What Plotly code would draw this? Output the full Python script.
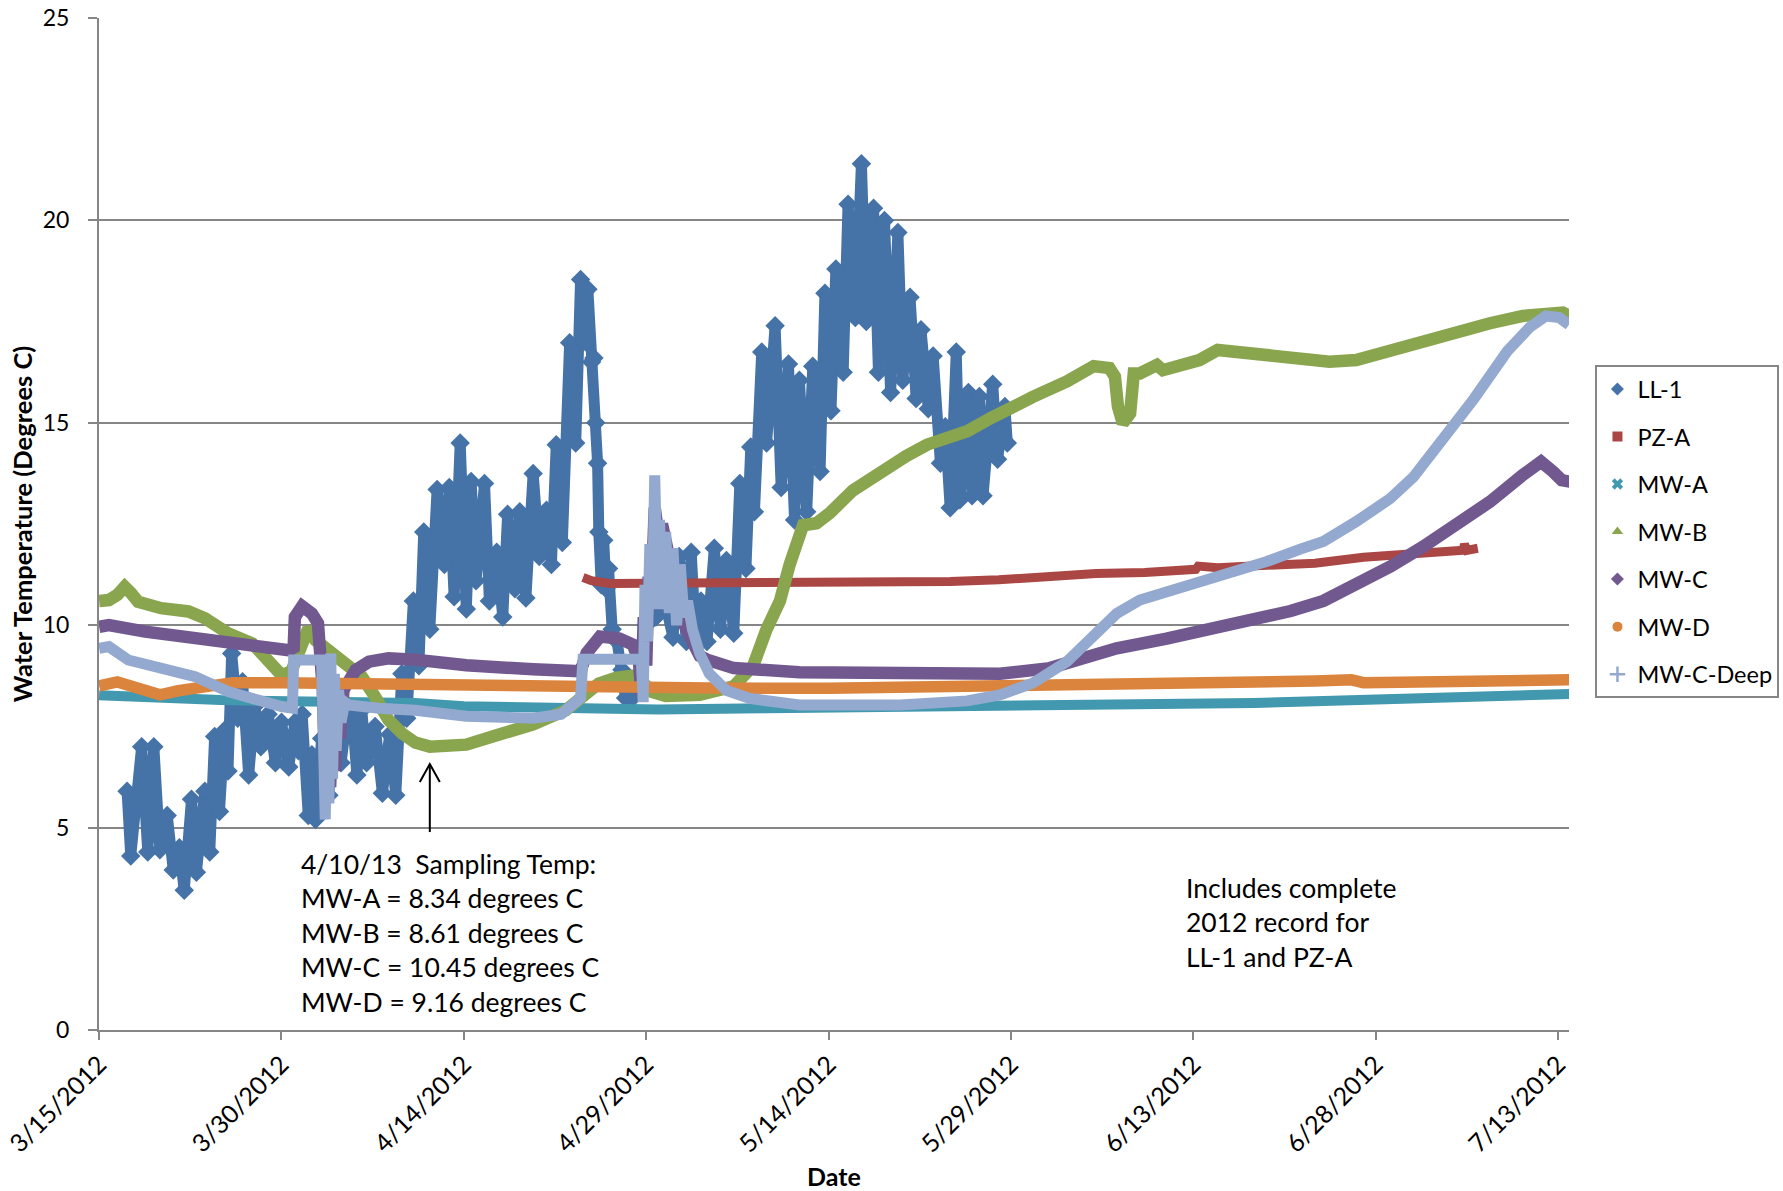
import pandas as pd
import plotly.graph_objects as go

# Logger record start; every series below is given as (days since START, temperature in deg C)
START = pd.Timestamp("2012-03-15")

LL1_DAY = [2.3, 2.6, 3.0, 3.5, 4.0, 4.5, 5.0, 5.6, 6.1, 6.6, 7.0, 7.6, 8.0, 8.7, 9.1, 9.5, 9.9,
           10.3, 10.6, 10.9, 11.4, 11.8, 12.3, 12.8, 13.3, 13.9, 14.5, 15.0, 15.6, 16.1, 16.4,
           16.7, 17.2, 17.5, 17.8, 18.3, 18.9, 19.4, 19.9, 20.4, 20.8, 21.2, 21.6, 22.0, 22.7,
           23.3, 23.9, 24.4, 24.9, 25.3, 25.85, 26.3, 26.7, 27.2, 27.8, 28.4, 28.8, 29.2, 29.7,
           30.2, 30.6, 31.0, 31.7, 32.1, 32.7, 33.2, 33.6, 34.2, 34.6, 35.1, 35.7, 36.2, 36.8,
           37.2, 37.6, 38.1, 38.7, 39.2, 39.6, 40.0, 40.2, 40.5, 40.7, 40.85, 41.0, 41.1, 41.3,
           41.5, 41.7, 41.9, 42.2, 42.6, 43.0, 43.3, 43.7, 44.2, 44.6, 45.0, 45.4, 45.8, 46.2,
           46.6, 47.2, 47.7, 48.3, 48.7, 49.1, 49.5, 50.0, 50.6, 51.1, 51.6, 52.2, 52.7, 53.2,
           53.6, 53.9, 54.5, 54.9, 55.6, 56.1, 56.7, 57.2, 57.6, 58.2, 58.7, 59.3, 59.7, 60.2,
           60.6, 61.2, 61.6, 62.2, 62.7, 63.1, 63.7, 64.1, 64.6, 65.1, 65.7, 66.1, 66.7, 67.2,
           67.6, 68.2, 68.6, 69.2, 69.6, 70.0, 70.5, 70.8, 71.5, 71.8, 72.4, 72.7, 73.5, 73.9,
           74.5, 74.7]
LL1_TEMP = [5.9, 4.3, 5.5, 7.0, 4.4, 7.0, 4.45, 5.3, 3.95, 4.5, 3.45, 5.7, 3.9, 5.9, 4.4, 7.25, 5.4,
            7.4, 6.4, 9.3, 7.7, 8.6, 6.3, 8.0, 7.0, 7.8, 6.6, 7.6, 6.5, 7.6, 6.9,
            7.8, 5.3, 6.8, 5.2, 7.2, 5.8, 8.0, 6.6, 7.8, 7.9, 6.3, 7.9, 6.6, 7.5,
            5.85, 7.3, 5.8, 8.8, 7.7, 10.6, 9.0, 12.3, 9.9, 13.35, 11.5, 13.4, 10.7, 14.5,
            10.4, 13.55, 11.1, 13.5, 10.6, 11.8, 10.2, 12.74, 10.9, 12.8, 10.67, 13.75, 11.7, 12.84,
            11.5, 14.46, 12.04, 16.98, 14.5, 18.54, 17.0, 18.3, 16.5, 16.6, 15.0, 14.0, 12.3, 11.0,
            12.1, 10.9, 11.4, 9.9, 9.6, 8.9, 8.2, 8.15, 8.4, 9.3, 10.0, 10.5, 10.2, 11.2,
            10.5, 9.7, 11.7, 9.6, 11.8, 9.5, 10.6, 9.6, 11.9, 9.9, 11.6, 9.8, 13.5, 11.4,
            14.4, 12.8, 16.75, 14.5, 17.4, 13.4, 16.45, 12.6, 16.05, 12.8, 16.4, 13.8, 18.2, 15.3,
            18.8, 16.25, 20.4, 17.6, 21.4, 17.5, 20.3, 16.25, 20.0, 15.75, 19.7, 16.05, 18.1, 15.6,
            17.3, 15.35, 16.65, 14.0, 14.9, 12.9, 16.75, 13.1, 15.75, 13.2, 15.65, 13.2, 15.95, 14.1,
            15.4, 14.5]

PZA_DAY = [39.8, 40.5, 42, 45, 50, 55, 60, 65, 70, 74, 78, 80, 80.3, 82, 86, 89, 90.2, 90.4,
           92, 96, 100, 104, 108, 111.5, 112.2, 112.3, 112.5, 113.4]
PZA_TEMP = [11.18, 11.1, 11.03, 11.03, 11.05, 11.06, 11.07, 11.06, 11.08, 11.12, 11.2, 11.24,
            11.3, 11.28, 11.3, 11.36, 11.38, 11.46, 11.42, 11.48, 11.53, 11.68, 11.75, 11.81,
            11.85, 12.0, 11.85, 11.9]

MWA_DAY = [0, 5, 10, 20, 26, 30, 36, 40, 46, 55, 65, 74, 85, 95, 100, 110, 121]
MWA_TEMP = [8.27, 8.2, 8.15, 8.1, 8.08, 8.0, 7.95, 7.92, 7.92, 7.95, 7.97, 8.03, 8.05, 8.08,
            8.12, 8.2, 8.3]

MWB_DAY = [0, 0.8, 1.5, 2.1, 2.6, 3.2, 5.1, 7.35, 8.7, 10.6, 12.6, 13.9, 15.0, 15.8, 16.5, 17.2,
           17.8, 18.9, 20.5, 21.6, 22.7, 23.8, 24.9, 26.0, 27.2, 30.2, 32.9, 35.7, 38.4, 39.8,
           41.1, 42.5, 43.9, 44.5, 45.5, 46.6, 49.4, 52.2, 53.8, 54.9, 56.0, 56.8, 57.9, 59.0,
           60.1, 62.0, 64.2, 66.4, 68.1, 69.7, 71.4, 73.5, 75.7, 76.8, 79.6, 81.8, 83.1, 83.55,
           83.8, 84.2, 84.8, 85.1, 85.6, 87.0, 87.5, 89.4, 90.5, 92.0, 93.3, 96.6, 99.5, 101.2,
           103.4, 106.2, 108.9, 111.7, 114.4, 117.1, 119.0, 120.4, 121.1]
MWB_TEMP = [10.6, 10.62, 10.75, 10.95, 10.8, 10.58, 10.42, 10.34, 10.17, 9.8, 9.55, 9.14, 8.77,
            8.85, 9.3, 9.92, 9.63, 9.34, 8.97, 8.73, 8.23, 7.66, 7.33, 7.1, 7.0, 7.05, 7.3, 7.55,
            7.9, 8.25, 8.56, 8.7, 8.75, 8.65, 8.35, 8.25, 8.28, 8.49, 9.0, 9.9, 10.6, 11.5, 12.47,
            12.52, 12.77, 13.33, 13.78, 14.18, 14.46, 14.59, 14.79, 15.14, 15.5, 15.64, 16.02,
            16.4, 16.35, 16.14, 15.4, 14.99, 15.23, 16.22, 16.22, 16.43, 16.3, 16.43, 16.55, 16.8,
            16.76, 16.67, 16.55, 16.51, 16.55, 16.8, 17.04, 17.25, 17.46, 17.64, 17.72, 17.72,
            17.62]

MWC_DAY = [0, 0.8, 3.8, 7.9, 12.0, 15.6, 16.0, 16.1, 16.7, 17.5, 18.0, 18.2, 18.4, 18.6, 18.8,
           19.0, 19.2, 19.4, 19.6, 19.8, 20.1, 20.5, 21.1, 22.2, 23.8, 26.0, 30.2, 35.7, 39.6,
           40.1, 41.2, 42.8, 43.9, 44.4, 44.6, 44.8, 45.0, 45.2, 45.4, 45.7, 46.0, 46.3, 46.7,
           47.1, 47.5, 48.0, 48.6, 49.4, 50.0, 51.1, 52.2, 57.6, 65.9, 74.1, 78.2, 80.9, 83.7,
           87.8, 91.9, 96.0, 98.0, 100.7, 103.4, 106.2, 108.9, 111.7, 114.4, 117.1, 118.6, 119.6,
           120.3, 121.1]
MWC_TEMP = [9.96, 10.0, 9.84, 9.67, 9.47, 9.38, 9.45, 10.2, 10.47, 10.29, 10.05, 9.5, 8.4, 6.3,
            7.8, 6.0, 7.6, 6.4, 8.0, 7.2, 8.4, 8.6, 8.89, 9.1, 9.18, 9.15, 9.01, 8.91, 8.86, 9.31,
            9.72, 9.67, 9.52, 9.11, 8.3, 10.2, 9.0, 11.2, 10.4, 12.9, 12.2, 12.5, 11.94, 11.2,
            10.63, 10.1, 9.72, 9.24, 9.15, 9.02, 8.94, 8.84, 8.79, 8.8, 8.94, 9.18, 9.43, 9.67,
            9.92, 10.17, 10.35, 10.6, 10.99, 11.45, 11.94, 12.47, 13.05, 13.71, 14.04, 13.79,
            13.58, 13.54]

MWD_DAY = [0, 1.5, 3.5, 5, 6.5, 8.5, 11, 15, 20, 24, 26, 30, 40, 50, 60, 70, 75, 85, 95, 100,
           103, 104, 110, 121]
MWD_TEMP = [8.5, 8.6, 8.42, 8.28, 8.38, 8.5, 8.58, 8.58, 8.56, 8.5, 8.55, 8.5, 8.47, 8.45, 8.44,
            8.47, 8.5, 8.55, 8.6, 8.62, 8.65, 8.58, 8.6, 8.65]

MWCD_DAY = [0, 0.8, 2.4, 5.1, 7.9, 10.6, 12.8, 15.0, 15.9, 16.0, 18.3, 18.45, 18.6, 18.75, 18.9,
            19.05, 19.2, 19.35, 19.5, 19.7, 19.9, 20.2, 20.5, 23.0, 26.0, 30.2, 35.7, 38.0, 39.0,
            39.6, 39.8, 44.6, 44.75, 44.9, 45.1, 45.3, 45.5, 45.7, 45.9, 46.1, 46.3, 46.6, 46.9,
            47.2, 47.5, 47.8, 48.1, 48.4, 48.8, 49.4, 50.2, 51.6, 53.5, 57.6, 65.9, 71.4, 74.1,
            76.8, 79.6, 81.8, 83.7, 85.6, 87.8, 90.5, 93.3, 96.0, 98.8, 100.7, 103.4, 106.2,
            108.1, 110.3, 113.1, 115.8, 117.7, 119.0, 120.1, 120.9]
MWCD_TEMP = [9.43, 9.47, 9.14, 8.97, 8.73, 8.36, 8.15, 7.99, 7.95, 9.14, 9.14, 7.2, 5.2, 8.6,
             5.6, 9.3, 6.2, 8.8, 6.9, 8.4, 7.6, 8.1, 8.03, 7.95, 7.9, 7.75, 7.7, 7.8, 8.0, 8.2,
             9.16, 9.16, 8.1, 11.0, 9.6, 12.0, 10.4, 13.7, 11.0, 12.6, 10.4, 12.3, 10.3, 11.9,
             10.0, 11.5, 10.2, 10.6, 9.9, 9.3, 8.8, 8.39, 8.19, 8.03, 8.03, 8.13, 8.28, 8.57,
             9.1, 9.71, 10.29, 10.62, 10.82, 11.03, 11.28, 11.57, 11.88, 12.07, 12.56, 13.13,
             13.66, 14.49, 15.6, 16.76, 17.37, 17.64, 17.6, 17.42]

TICK_DAYS = [0, 15, 30, 45, 60, 75, 90, 105, 120]
TICK_TEXT = ["3/15/2012", "3/30/2012", "4/14/2012", "4/29/2012", "5/14/2012",
             "5/29/2012", "6/13/2012", "6/28/2012", "7/13/2012"]
AXIS_START_DAY, AXIS_END_DAY = -0.01, 120.9

SAMPLE_NOTE = ["4/10/13&nbsp; Sampling Temp:", "MW-A = 8.34 degrees C",
               "MW-B = 8.61 degrees C", "MW-C = 10.45 degrees C", "MW-D = 9.16 degrees C"]
RECORD_NOTE = ["Includes complete", "2012 record for", "LL-1 and PZ-A"]

# Arrow marking the sampling date on the MW-B trough
ARROW_DAY, ARROW_TAIL, ARROW_TIP = 27.2, 4.89, 6.57

FONT = "Lato, 'Open Sans', sans-serif"
GRID = "#868686"


def to_dates(days):
    return [START + pd.Timedelta(days=d) for d in days]


# name, days, temps, colour, line width, legend symbol
series = [
    ("LL-1", LL1_DAY, LL1_TEMP, "#4572A7", 11, "diamond"),
    ("PZ-A", PZA_DAY, PZA_TEMP, "#AA4643", 9, "square"),
    ("MW-A", MWA_DAY, MWA_TEMP, "#4198AF", 10, "x"),
    ("MW-B", MWB_DAY, MWB_TEMP, "#89A54E", 12.5, "triangle-up"),
    ("MW-C", MWC_DAY, MWC_TEMP, "#71588F", 12.5, "diamond"),
    ("MW-D", MWD_DAY, MWD_TEMP, "#DB843D", 11.5, "circle"),
    ("MW-C-Deep", MWCD_DAY, MWCD_TEMP, "#93A9CF", 11, "cross-thin"),
]

fig = go.Figure()
for name, days, temps, color, width, symbol in series:
    trace = dict(x=to_dates(days), y=temps, name=name, legendgroup=name, showlegend=False,
                 line=dict(color=color, width=width, shape="linear"), hoverinfo="x+y+name")
    if name == "LL-1":
        trace.update(mode="lines+markers",
                     marker=dict(symbol="diamond", size=15, color=color))
    else:
        trace.update(mode="lines")
    fig.add_trace(go.Scatter(**trace))

# Legend entries show the marker symbol only
for name, days, temps, color, width, symbol in series:
    marker = dict(symbol=symbol, size=10, color=color)
    if symbol == "cross-thin":
        marker.update(line=dict(color=color, width=2.5), size=11)
    fig.add_trace(go.Scatter(x=[None], y=[None], mode="markers", name=name,
                             legendgroup=name, marker=marker, hoverinfo="skip"))

fig.add_shape(type="line", xref="x", yref="y",
              x0=START + pd.Timedelta(days=ARROW_DAY), x1=START + pd.Timedelta(days=ARROW_DAY),
              y0=ARROW_TAIL, y1=ARROW_TIP, line=dict(color="black", width=2))
fig.add_shape(type="path", xref="x", yref="y", xsizemode="pixel", ysizemode="pixel",
              xanchor=START + pd.Timedelta(days=ARROW_DAY), yanchor=ARROW_TIP,
              path="M-10,-18 L0,0 L10,-18", line=dict(color="black", width=2))

fig.add_annotation(x=START + pd.Timedelta(days=16.4), y=4.55, xref="x", yref="y",
                   text="<br>".join(SAMPLE_NOTE), showarrow=False, xanchor="left",
                   yanchor="top", align="left", font=dict(family=FONT, size=26.5, color="black"))
fig.add_annotation(x=START + pd.Timedelta(days=89.2), y=3.95, xref="x", yref="y",
                   text="<br>".join(RECORD_NOTE), showarrow=False, xanchor="left",
                   yanchor="top", align="left", font=dict(family=FONT, size=26.5, color="black"))

fig.update_layout(
    width=1783, height=1191, autosize=False,
    margin=dict(l=99, r=214, t=18, b=161, autoexpand=False),
    paper_bgcolor="white", plot_bgcolor="white",
    font=dict(family=FONT, color="black"),
    legend=dict(x=1.018, y=0.657, xanchor="left", yanchor="top", bgcolor="white",
                bordercolor=GRID, borderwidth=2, font=dict(family=FONT, size=23.5),
                itemwidth=30, tracegroupgap=14, traceorder="grouped"),
    xaxis=dict(type="date",
               range=to_dates([AXIS_START_DAY, AXIS_END_DAY]),
               tickmode="array", tickvals=to_dates(TICK_DAYS), ticktext=TICK_TEXT,
               tickangle=-45, tickfont=dict(family=FONT, size=25), ticklabeloverflow="allow",
               ticks="outside", ticklen=8, tickcolor=GRID, tickwidth=2,
               showline=True, linecolor=GRID, linewidth=2, showgrid=False, zeroline=False,
               automargin=False,
               title=dict(text="<b>Date</b>", font=dict(family=FONT, size=25), standoff=12)),
    yaxis=dict(range=[0, 25], tickmode="linear", tick0=0, dtick=5,
               tickfont=dict(family=FONT, size=23),
               ticks="outside", ticklen=9, tickcolor=GRID, tickwidth=2,
               showline=True, linecolor=GRID, linewidth=2,
               showgrid=True, gridcolor=GRID, gridwidth=1.5, zeroline=False,
               ticklabelstandoff=14, automargin=False,
               title=dict(text="<b>Water Temperature (Degrees C)</b>",
                          font=dict(family=FONT, size=25.5), standoff=3)),
)

fig.write_html("out.html", config={"displayModeBar": False})
